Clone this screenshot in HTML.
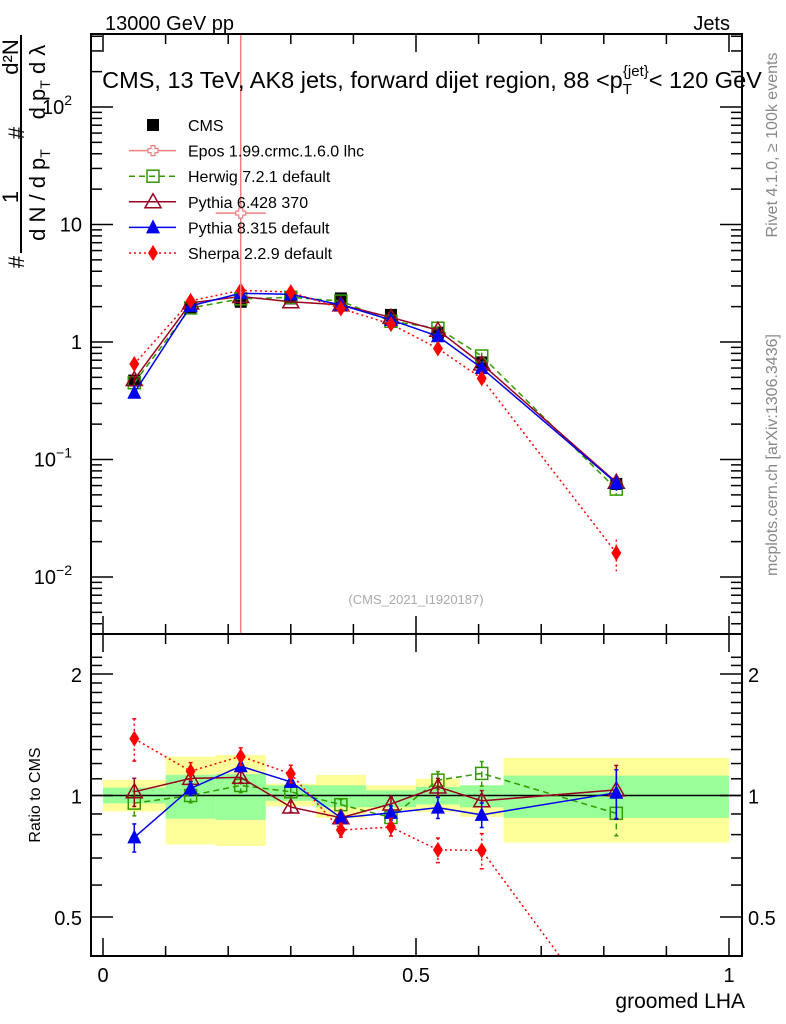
<!DOCTYPE html>
<html><head><meta charset="utf-8"><style>
html,body{margin:0;padding:0;background:#fff;overflow:hidden;width:786px;height:1024px;}
svg{display:block;font-family:"Liberation Sans",Arial,sans-serif;}
</style></head><body>
<svg id="chart" width="786" height="1024" viewBox="0 0 786 1024" xmlns="http://www.w3.org/2000/svg">
<text x="105" y="30" font-size="20">13000 GeV pp</text>
<text x="730" y="30" font-size="20" text-anchor="end">Jets</text>
<g font-size="22">
<text transform="translate(18,57) rotate(-90)" text-anchor="middle">d²N</text>
<text transform="translate(18,197) rotate(-90)" text-anchor="middle">1</text>
<text transform="translate(24,133) rotate(-90)" text-anchor="middle">#</text>
<text transform="translate(24,262) rotate(-90)" text-anchor="middle">#</text>
<line x1="21" y1="35" x2="21" y2="253" stroke="#000" stroke-width="2"/>
<text transform="translate(45,195) rotate(-90)" text-anchor="middle">d N / d p<tspan font-size="14" dy="5">T</tspan></text>
<text transform="translate(45,82) rotate(-90)" text-anchor="middle">d p<tspan font-size="14" dy="5">T</tspan><tspan dy="-5">  d λ</tspan></text>
</g>
<text transform="translate(777,145) rotate(-90)" text-anchor="middle" font-size="16" fill="#888">Rivet 4.1.0, ≥ 100k events</text>
<text transform="translate(777,455) rotate(-90)" text-anchor="middle" font-size="16" fill="#888">mcplots.cern.ch [arXiv:1306.3436]</text>
<text transform="translate(40,795) rotate(-90)" text-anchor="middle" font-size="16">Ratio to CMS</text>
<text x="745" y="1008" font-size="21" text-anchor="end">groomed LHA</text>
<text x="416" y="604" font-size="13" fill="#aaa" text-anchor="middle">(CMS_2021_I1920187)</text>
<g id="bands"></g><g id="grid"></g><g id="series"></g><g id="frames"></g><g id="legend"></g>
<text x="432" y="88" font-size="23.5" text-anchor="middle">CMS, 13 TeV, AK8 jets, forward dijet region, 88 &lt;p<tspan font-size="15" dy="6">T</tspan><tspan font-size="15" dy="-18" dx="-9">{jet}</tspan><tspan dy="12">&lt; 120 GeV</tspan></text>
</svg>
<script>
const edges=[0,0.1,0.18,0.26,0.34,0.42,0.5,0.57,0.64,1.0];
const centers=[0.05,0.14,0.22,0.3,0.38,0.46,0.535,0.605,0.82];
const cms=[0.47,1.95,2.2,2.35,2.35,1.7,1.2,0.67,0.062];
const greenHi=[1.046,1.125,1.13,1.06,1.06,1.03,1.05,1.06,1.12];
const greenLo=[0.956,0.876,0.87,0.97,0.935,0.935,0.95,0.935,0.88];
const yellowHi=[1.093,1.248,1.26,1.07,1.125,1.06,1.1,1.06,1.24];
const yellowLo=[0.913,0.756,0.75,0.94,0.88,0.92,0.91,0.885,0.765];
const herwig=[0.45,1.95,2.33,2.4,2.23,1.5,1.31,0.76,0.056];
const herwigErr=[0.07,0.04,0.04,0.03,0.03,0.04,0.05,0.07,0.12];
const pythia6=[0.48,2.15,2.44,2.2,2.07,1.62,1.26,0.65,0.064];
const pythia6Err=[0.08,0.03,0.03,0.03,0.03,0.04,0.05,0.06,0.15];
const pythia8=[0.37,2.03,2.6,2.54,2.07,1.54,1.12,0.60,0.063];
const pythia8Err=[0.08,0.04,0.03,0.03,0.03,0.04,0.06,0.07,0.14];
const sherpa=[0.65,2.24,2.75,2.66,1.93,1.42,0.88,0.49,0.016];
const sherpaErr=[0.12,0.05,0.05,0.05,0.04,0.05,0.07,0.1,0.3];
const eposX=[0.22];const eposLo=[0.18];const eposHi=[0.26];const eposY=[12.5];
const mainTicks=[[100,"10","2"],[10,"10",""],[1,"1",""],[0.1,"10","−1"],[0.01,"10","−2"]];
const ratioTicks=[2,1,0.5];
const xTicks=[0,0.5,1];

const NS="http://www.w3.org/2000/svg";
const L=91,R=742,T=34,MB=634,RB=956;
const px=x=>103+626*x;
const py=v=>342-117.5*Math.log10(v);
const ry=r=>795.5-121.5*Math.log2(r);
function mk(tag,attrs,parent){const e=document.createElementNS(NS,tag);for(const k in attrs)e.setAttribute(k,attrs[k]);parent.appendChild(e);return e;}
const svg=document.getElementById('chart');
const defs=mk('defs',{},svg);
const c1=mk('clipPath',{id:'cm'},defs);mk('rect',{x:L,y:T,width:R-L,height:MB-T},c1);
const c2=mk('clipPath',{id:'cr'},defs);mk('rect',{x:L,y:MB,width:R-L,height:RB-MB},c2);

const bg=document.getElementById('bands');
for(let i=0;i<centers.length;i++){
 let r=mk('rect',{x:px(edges[i]),y:ry(yellowHi[i]),width:px(edges[i+1])-px(edges[i]),height:ry(yellowLo[i])-ry(yellowHi[i]),fill:'#ffff99'},bg);
 
 
 let g=mk('rect',{x:px(edges[i]),y:ry(greenHi[i]),width:px(edges[i+1])-px(edges[i]),height:ry(greenLo[i])-ry(greenHi[i]),fill:'#99ff99'},bg);
 
 
}
mk('line',{x1:L,x2:R,y1:ry(1),y2:ry(1),stroke:'#000','stroke-width':1.5},bg);

const fr=document.getElementById('frames');
mk('rect',{x:L,y:T,width:R-L,height:MB-T,fill:'none',stroke:'#000','stroke-width':2},fr);
mk('rect',{x:L,y:MB,width:R-L,height:RB-MB,fill:'none',stroke:'#000','stroke-width':2},fr);
for(let k=0;k<=10;k++){const x=px(k/10),len=(k%5==0)?18:10;
 [[T,1],[MB,-1],[MB,1],[RB,-1]].forEach(([y,d])=>mk('line',{x1:x,x2:x,y1:y,y2:y+d*len,stroke:'#000','stroke-width':1.5},fr));}
xTicks.forEach(v=>{const t=mk('text',{x:px(v),y:RB+26,'font-size':20,'text-anchor':'middle'},fr);t.textContent=String(v);
 });
for(let e=-3;e<=2;e++)for(let m=1;m<10;m++){const v=m*Math.pow(10,e),y=py(v);if(y<T||y>MB)continue;const len=m==1?22:11;
 mk('line',{x1:L,x2:L+len,y1:y,y2:y,stroke:'#000','stroke-width':1.5},fr);mk('line',{x1:R,x2:R-len,y1:y,y2:y,stroke:'#000','stroke-width':1.5},fr);}
mainTicks.forEach(([v,b,s])=>{const t=mk('text',{x:s?72:82,y:py(v)+7,'font-size':20,'text-anchor':'end'},fr);t.textContent=b;
 if(s){const ts=mk('tspan',{'font-size':14,dy:-9},t);ts.textContent=s;}
 });
for(let r=0.4;r<=2.3;r+=0.1){const y=ry(r);if(y<MB||y>RB)continue;const maj=[0.5,1,2].some(q=>Math.abs(q-r)<1e-6);const len=maj?22:11;
 mk('line',{x1:L,x2:L+len,y1:y,y2:y,stroke:'#000','stroke-width':1.5},fr);mk('line',{x1:R,x2:R-len,y1:y,y2:y,stroke:'#000','stroke-width':1.5},fr);}
ratioTicks.forEach(v=>{[[82,'end'],[748,'start']].forEach(([x,a])=>{const t=mk('text',{x:x,y:ry(v)+8,'font-size':20,'text-anchor':a},fr);t.textContent=String(v);
 });});

function marker(type,x,y,col,p,name){let e;const s=6;
 if(type=='sq'){e=mk('rect',{x:x-s,y:y-s,width:2*s,height:2*s,fill:'#000'},p);}
 else if(type=='osq'){e=mk('rect',{x:x-s,y:y-s,width:2*s,height:2*s,fill:'none',stroke:col,'stroke-width':1.5},p);}
 else if(type=='otri'){e=mk('polygon',{points:`${x},${y-8} ${x-8},${y+6} ${x+8},${y+6}`,fill:'none',stroke:col,'stroke-width':1.5},p);}
 else if(type=='tri'){e=mk('polygon',{points:`${x},${y-8} ${x-7},${y+6} ${x+7},${y+6}`,fill:col},p);}
 else if(type=='dia'){e=mk('polygon',{points:`${x},${y-8} ${x-5},${y} ${x},${y+8} ${x+5},${y}`,fill:col},p);}
 else {e=mk('path',{d:`M${x-2} ${y-5}h4v3h3v4h-3v3h-4v-3h-3v-4h3z`,fill:'#fff',stroke:col,'stroke-width':1.2},p);}
 
 
 return e;}

const sg=document.getElementById('series');
const gm=mk('g',{'clip-path':'url(#cm)'},sg),gr=mk('g',{'clip-path':'url(#cr)'},sg);
const defsS=[
 {vals:herwig,err:herwigErr,col:'#339900',dash:'6,4',m:'osq',name:'herwig'},
 {vals:pythia6,err:pythia6Err,col:'#990022',dash:'',m:'otri',name:'pythia6'},
 {vals:pythia8,err:pythia8Err,col:'#0000ee',dash:'',m:'tri',name:'pythia8'},
 {vals:sherpa,err:sherpaErr,col:'#ff0000',dash:'2,3',m:'dia',name:'sherpa'}];
cms.forEach((v,i)=>{marker('sq',px(centers[i]),py(v),'#000',gm,'cms-point');});
defsS.forEach(S=>{
 const pm=centers.map((c,i)=>px(c)+','+py(S.vals[i])).join(' ');
 const pr=centers.map((c,i)=>px(c)+','+ry(S.vals[i]/cms[i])).join(' ');
 let l1=mk('polyline',{points:pm,fill:'none',stroke:S.col,'stroke-width':1.5,'stroke-dasharray':S.dash},gm);
 
 let l2=mk('polyline',{points:pr,fill:'none',stroke:S.col,'stroke-width':1.5,'stroke-dasharray':S.dash},gr);
 
 S.vals.forEach((v,i)=>{const x=px(centers[i]),r=v/cms[i],e=S.err[i];
  mk('line',{x1:x,x2:x,y1:py(v*(1+e)),y2:py(v*Math.max(0.05,1-e)),stroke:S.col,'stroke-width':1.5,'stroke-dasharray':S.dash},gm);
  mk('line',{x1:x,x2:x,y1:ry(r*(1+e)),y2:ry(r*Math.max(0.05,1-e)),stroke:S.col,'stroke-width':1.5,'stroke-dasharray':S.dash},gr);
  [r*(1+e),r*(1-e)].forEach(q=>mk('line',{x1:x-2,x2:x+2,y1:ry(q),y2:ry(q),stroke:S.col,'stroke-width':1.5},gr));
  marker(S.m,x,py(v),S.col,gm,S.name+'-point');
  marker(S.m,x,ry(r),S.col,gr,S.name+'-ratio-point');});
});
eposX.forEach((x,i)=>{
 mk('line',{x1:px(x),x2:px(x),y1:T,y2:MB,stroke:'#f08080','stroke-width':1.5},gm);
 mk('line',{x1:px(eposLo[i]),x2:px(eposHi[i]),y1:py(eposY[i]),y2:py(eposY[i]),stroke:'#f08080','stroke-width':1.5},gm);
 marker('cross',px(x),py(eposY[i]),'#f08080',gm,'epos-point');});

const lg=document.getElementById('legend');
const items=[['CMS','sq','#000',''],['Epos 1.99.crmc.1.6.0 lhc','cross','#f08080',''],['Herwig 7.2.1 default','osq','#339900','6,4'],
 ['Pythia 6.428 370','otri','#990022',''],['Pythia 8.315 default','tri','#0000ee',''],['Sherpa 2.2.9 default','dia','#ff0000','2,3']];
items.forEach((it,k)=>{const y=125+25.6*k;const g=mk('g',{},lg);
 
 if(k>0)mk('line',{x1:129,x2:176,y1:y,y2:y,stroke:it[2],'stroke-width':1.5,'stroke-dasharray':it[3]},g);
 marker(it[1],153,y,it[2],g,'legend-marker');
 const t=mk('text',{x:188,y:y+6,'font-size':16},g);t.textContent=it[0];});
</script>
</body></html>
